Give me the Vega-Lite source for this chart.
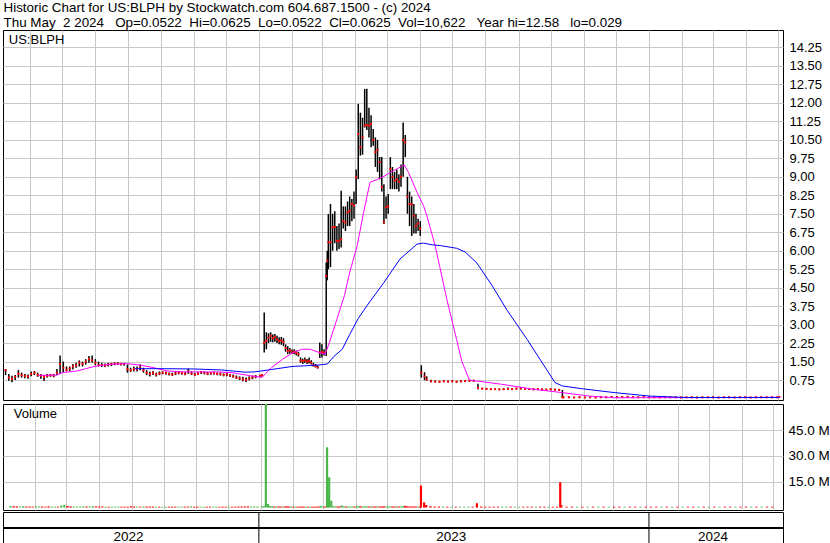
{
  "$schema": "https://vega.github.io/schema/vega-lite/v6.json",
  "padding": {"left": 1, "top": 0, "right": 0, "bottom": 0},
  "background": "white",
  "title": {
    "text": [
      "Historic Chart for US:BLPH by Stockwatch.com 604.687.1500 - (c) 2024",
      "Thu May\u00a0\u00a02 2024\u00a0\u00a0\u00a0Op=0.0522\u00a0\u00a0Hi=0.0625\u00a0\u00a0Lo=0.0522\u00a0\u00a0Cl=0.0625\u00a0\u00a0Vol=10,622\u00a0\u00a0\u00a0Year hi=12.58\u00a0\u00a0\u00a0lo=0.029"
    ],
    "anchor": "start",
    "font": "Liberation Sans",
    "fontSize": 13.4,
    "fontWeight": "normal",
    "lineHeight": 15.5,
    "color": "black",
    "offset": 0,
    "dx": 2
  },
  "config": {
    "view": {"stroke": "black", "strokeWidth": 1},
    "axis": {"gridColor": "#c8c8c8", "gridWidth": 1, "labelFont": "Liberation Sans", "labelColor": "black", "labelOverlap": false}
  },
  "datasets": {
    "px": [
      {"d":"2022-05-09","h":1.20,"l":0.95,"c":1.15,"v":0.9,"t":"up"},
      {"d":"2022-05-12","h":1.00,"l":0.72,"c":0.85,"v":0.8,"t":"dn"},
      {"d":"2022-05-15","h":0.92,"l":0.66,"c":0.80,"v":0.7,"t":"dn"},
      {"d":"2022-05-18","h":0.95,"l":0.75,"c":0.88,"v":0.6,"t":"up"},
      {"d":"2022-05-21","h":1.16,"l":0.85,"c":1.00,"v":0.8,"t":"up"},
      {"d":"2022-05-24","h":1.05,"l":0.85,"c":0.95,"v":0.6,"t":"dn"},
      {"d":"2022-05-27","h":1.00,"l":0.82,"c":0.92,"v":0.6,"t":"dn"},
      {"d":"2022-05-30","h":0.98,"l":0.80,"c":0.90,"v":0.5,"t":"dn"},
      {"d":"2022-06-02","h":1.10,"l":0.90,"c":1.00,"v":0.7,"t":"up"},
      {"d":"2022-06-05","h":1.12,"l":0.95,"c":1.05,"v":0.6,"t":"up"},
      {"d":"2022-06-08","h":1.05,"l":0.88,"c":0.95,"v":0.6,"t":"dn"},
      {"d":"2022-06-11","h":1.00,"l":0.80,"c":0.93,"v":0.5,"t":"dn"},
      {"d":"2022-06-14","h":0.95,"l":0.71,"c":0.88,"v":0.7,"t":"dn"},
      {"d":"2022-06-17","h":1.00,"l":0.85,"c":0.92,"v":0.5,"t":"up"},
      {"d":"2022-06-20","h":1.00,"l":0.88,"c":0.95,"v":0.5,"t":"up"},
      {"d":"2022-06-23","h":1.00,"l":0.86,"c":0.93,"v":0.5,"t":"dn"},
      {"d":"2022-06-26","h":1.20,"l":0.95,"c":1.05,"v":1.2,"t":"up"},
      {"d":"2022-06-29","h":1.75,"l":1.00,"c":1.40,"v":1.6,"t":"up"},
      {"d":"2022-07-02","h":1.50,"l":1.05,"c":1.25,"v":0.9,"t":"dn"},
      {"d":"2022-07-05","h":1.30,"l":1.10,"c":1.16,"v":0.7,"t":"dn"},
      {"d":"2022-07-08","h":1.30,"l":1.12,"c":1.22,"v":0.6,"t":"up"},
      {"d":"2022-07-11","h":1.40,"l":1.18,"c":1.30,"v":0.6,"t":"up"},
      {"d":"2022-07-14","h":1.45,"l":1.25,"c":1.35,"v":0.6,"t":"up"},
      {"d":"2022-07-17","h":1.55,"l":1.30,"c":1.46,"v":0.7,"t":"up"},
      {"d":"2022-07-20","h":1.50,"l":1.30,"c":1.40,"v":0.6,"t":"dn"},
      {"d":"2022-07-23","h":1.60,"l":1.38,"c":1.50,"v":0.6,"t":"up"},
      {"d":"2022-07-26","h":1.73,"l":1.45,"c":1.60,"v":0.8,"t":"up"},
      {"d":"2022-07-29","h":1.75,"l":1.45,"c":1.55,"v":0.7,"t":"dn"},
      {"d":"2022-08-01","h":1.60,"l":1.35,"c":1.45,"v":0.6,"t":"dn"},
      {"d":"2022-08-04","h":1.50,"l":1.30,"c":1.35,"v":0.6,"t":"dn"},
      {"d":"2022-08-07","h":1.45,"l":1.28,"c":1.36,"v":0.5,"t":"up"},
      {"d":"2022-08-10","h":1.42,"l":1.28,"c":1.33,"v":0.5,"t":"dn"},
      {"d":"2022-08-13","h":1.45,"l":1.30,"c":1.38,"v":0.5,"t":"up"},
      {"d":"2022-08-16","h":1.45,"l":1.32,"c":1.40,"v":0.5,"t":"up"},
      {"d":"2022-08-19","h":1.47,"l":1.35,"c":1.42,"v":0.5,"t":"up"},
      {"d":"2022-08-22","h":1.47,"l":1.36,"c":1.42,"v":0.5,"t":"dn"},
      {"d":"2022-08-25","h":1.45,"l":1.34,"c":1.40,"v":0.5,"t":"dn"},
      {"d":"2022-08-28","h":1.45,"l":1.33,"c":1.40,"v":0.5,"t":"dn"},
      {"d":"2022-08-31","h":1.38,"l":1.05,"c":1.19,"v":0.8,"t":"dn"},
      {"d":"2022-09-03","h":1.25,"l":1.08,"c":1.15,"v":0.6,"t":"dn"},
      {"d":"2022-09-06","h":1.30,"l":1.10,"c":1.20,"v":0.5,"t":"up"},
      {"d":"2022-09-09","h":1.30,"l":1.10,"c":1.19,"v":0.5,"t":"dn"},
      {"d":"2022-09-12","h":1.39,"l":1.15,"c":1.25,"v":0.6,"t":"up"},
      {"d":"2022-09-15","h":1.25,"l":1.05,"c":1.15,"v":0.6,"t":"dn"},
      {"d":"2022-09-18","h":1.15,"l":0.95,"c":1.05,"v":0.6,"t":"dn"},
      {"d":"2022-09-21","h":1.10,"l":0.89,"c":1.00,"v":0.6,"t":"dn"},
      {"d":"2022-09-24","h":1.12,"l":0.95,"c":1.05,"v":0.5,"t":"up"},
      {"d":"2022-09-27","h":1.05,"l":0.89,"c":0.98,"v":0.5,"t":"dn"},
      {"d":"2022-09-30","h":1.10,"l":0.95,"c":1.02,"v":0.5,"t":"up"},
      {"d":"2022-10-03","h":1.10,"l":0.98,"c":1.05,"v":0.5,"t":"up"},
      {"d":"2022-10-06","h":1.10,"l":0.96,"c":1.03,"v":0.5,"t":"dn"},
      {"d":"2022-10-09","h":1.06,"l":0.93,"c":1.00,"v":0.5,"t":"dn"},
      {"d":"2022-10-12","h":1.05,"l":0.92,"c":0.97,"v":0.5,"t":"dn"},
      {"d":"2022-10-15","h":1.08,"l":0.95,"c":1.02,"v":0.5,"t":"up"},
      {"d":"2022-10-18","h":1.12,"l":0.98,"c":1.05,"v":0.5,"t":"up"},
      {"d":"2022-10-21","h":1.10,"l":0.97,"c":1.03,"v":0.5,"t":"dn"},
      {"d":"2022-10-24","h":1.08,"l":0.94,"c":1.00,"v":0.5,"t":"dn"},
      {"d":"2022-10-27","h":1.21,"l":1.00,"c":1.10,"v":0.7,"t":"up"},
      {"d":"2022-10-30","h":1.10,"l":0.96,"c":1.02,"v":0.5,"t":"dn"},
      {"d":"2022-11-02","h":1.04,"l":0.92,"c":0.97,"v":0.5,"t":"dn"},
      {"d":"2022-11-05","h":1.08,"l":0.95,"c":1.00,"v":0.5,"t":"up"},
      {"d":"2022-11-08","h":1.12,"l":1.00,"c":1.07,"v":0.5,"t":"up"},
      {"d":"2022-11-11","h":1.10,"l":0.98,"c":1.05,"v":0.5,"t":"dn"},
      {"d":"2022-11-14","h":1.08,"l":0.95,"c":1.00,"v":0.5,"t":"dn"},
      {"d":"2022-11-17","h":1.08,"l":0.96,"c":1.02,"v":0.5,"t":"up"},
      {"d":"2022-11-20","h":1.10,"l":0.97,"c":1.04,"v":0.5,"t":"up"},
      {"d":"2022-11-23","h":1.06,"l":0.94,"c":1.00,"v":0.5,"t":"dn"},
      {"d":"2022-11-26","h":1.06,"l":0.93,"c":1.00,"v":0.5,"t":"dn"},
      {"d":"2022-11-29","h":1.02,"l":0.90,"c":0.96,"v":0.5,"t":"dn"},
      {"d":"2022-12-02","h":1.04,"l":0.90,"c":0.98,"v":0.5,"t":"up"},
      {"d":"2022-12-05","h":1.00,"l":0.87,"c":0.94,"v":0.5,"t":"dn"},
      {"d":"2022-12-08","h":0.98,"l":0.84,"c":0.90,"v":0.5,"t":"dn"},
      {"d":"2022-12-11","h":0.94,"l":0.79,"c":0.85,"v":0.6,"t":"dn"},
      {"d":"2022-12-14","h":0.90,"l":0.75,"c":0.82,"v":0.6,"t":"dn"},
      {"d":"2022-12-17","h":0.88,"l":0.70,"c":0.78,"v":0.6,"t":"dn"},
      {"d":"2022-12-20","h":0.85,"l":0.67,"c":0.75,"v":0.7,"t":"dn"},
      {"d":"2022-12-23","h":0.90,"l":0.74,"c":0.82,"v":0.6,"t":"up"},
      {"d":"2022-12-26","h":0.93,"l":0.78,"c":0.86,"v":0.6,"t":"up"},
      {"d":"2022-12-29","h":0.95,"l":0.82,"c":0.89,"v":0.6,"t":"up"},
      {"d":"2023-01-02","h":0.97,"l":0.86,"c":0.92,"v":0.6,"t":"up"},
      {"d":"2023-01-04","h":1.00,"l":0.88,"c":0.95,"v":0.8,"t":"up"},
      {"d":"2023-01-06","h":3.49,"l":1.87,"c":2.27,"v":61,"t":"up"},
      {"d":"2023-01-08","h":2.69,"l":2.00,"c":2.34,"v":2.1,"t":"up"},
      {"d":"2023-01-10","h":2.65,"l":2.25,"c":2.47,"v":0.9,"t":"up"},
      {"d":"2023-01-12","h":2.69,"l":2.30,"c":2.55,"v":0.7,"t":"up"},
      {"d":"2023-01-14","h":2.60,"l":2.28,"c":2.45,"v":0.6,"t":"dn"},
      {"d":"2023-01-16","h":2.62,"l":2.30,"c":2.50,"v":0.6,"t":"up"},
      {"d":"2023-01-18","h":2.55,"l":2.25,"c":2.40,"v":0.6,"t":"dn"},
      {"d":"2023-01-20","h":2.49,"l":2.20,"c":2.33,"v":0.6,"t":"dn"},
      {"d":"2023-01-22","h":2.50,"l":2.18,"c":2.35,"v":0.5,"t":"up"},
      {"d":"2023-01-24","h":2.45,"l":2.12,"c":2.30,"v":0.6,"t":"dn"},
      {"d":"2023-01-26","h":2.20,"l":1.90,"c":2.05,"v":0.7,"t":"dn"},
      {"d":"2023-01-28","h":2.13,"l":1.80,"c":1.93,"v":0.6,"t":"dn"},
      {"d":"2023-01-30","h":2.05,"l":1.82,"c":1.95,"v":0.5,"t":"up"},
      {"d":"2023-02-01","h":1.99,"l":1.83,"c":1.87,"v":0.5,"t":"dn"},
      {"d":"2023-02-03","h":2.00,"l":1.80,"c":1.90,"v":0.5,"t":"up"},
      {"d":"2023-02-05","h":1.95,"l":1.75,"c":1.85,"v":0.5,"t":"dn"},
      {"d":"2023-02-07","h":1.90,"l":1.70,"c":1.80,"v":0.5,"t":"dn"},
      {"d":"2023-02-09","h":1.67,"l":1.45,"c":1.55,"v":0.6,"t":"dn"},
      {"d":"2023-02-11","h":1.62,"l":1.40,"c":1.52,"v":0.5,"t":"dn"},
      {"d":"2023-02-13","h":1.67,"l":1.45,"c":1.55,"v":0.5,"t":"up"},
      {"d":"2023-02-15","h":1.60,"l":1.40,"c":1.50,"v":0.5,"t":"dn"},
      {"d":"2023-02-17","h":1.67,"l":1.42,"c":1.52,"v":0.5,"t":"up"},
      {"d":"2023-02-19","h":1.55,"l":1.38,"c":1.45,"v":0.5,"t":"dn"},
      {"d":"2023-02-21","h":1.45,"l":1.30,"c":1.35,"v":0.5,"t":"dn"},
      {"d":"2023-02-23","h":1.40,"l":1.26,"c":1.32,"v":0.5,"t":"dn"},
      {"d":"2023-02-25","h":1.35,"l":1.22,"c":1.26,"v":0.6,"t":"dn"},
      {"d":"2023-02-27","h":2.27,"l":1.65,"c":1.87,"v":1.0,"t":"up"},
      {"d":"2023-03-01","h":2.20,"l":1.67,"c":1.88,"v":0.6,"t":"up"},
      {"d":"2023-03-03","h":2.00,"l":1.75,"c":1.87,"v":0.6,"t":"dn"},
      {"d":"2023-03-05","h":5.52,"l":1.73,"c":4.98,"v":35,"t":"up"},
      {"d":"2023-03-06","h":6.00,"l":4.80,"c":5.60,"v":7.4,"t":"up"},
      {"d":"2023-03-07","h":7.49,"l":5.25,"c":6.34,"v":17.6,"t":"up"},
      {"d":"2023-03-09","h":7.90,"l":5.33,"c":6.35,"v":4.0,"t":"up"},
      {"d":"2023-03-11","h":7.50,"l":6.00,"c":6.95,"v":0.8,"t":"up"},
      {"d":"2023-03-13","h":7.60,"l":6.30,"c":6.96,"v":0.7,"t":"up"},
      {"d":"2023-03-15","h":7.00,"l":6.00,"c":6.40,"v":0.6,"t":"dn"},
      {"d":"2023-03-17","h":7.10,"l":6.07,"c":6.40,"v":0.6,"t":"dn"},
      {"d":"2023-03-19","h":8.43,"l":6.13,"c":6.47,"v":1.2,"t":"up"},
      {"d":"2023-03-21","h":7.80,"l":6.90,"c":7.20,"v":0.7,"t":"up"},
      {"d":"2023-03-23","h":7.80,"l":6.80,"c":7.15,"v":0.6,"t":"dn"},
      {"d":"2023-03-25","h":8.00,"l":7.00,"c":7.56,"v":0.6,"t":"up"},
      {"d":"2023-03-27","h":8.20,"l":7.00,"c":7.62,"v":0.6,"t":"up"},
      {"d":"2023-03-29","h":8.10,"l":7.20,"c":7.90,"v":0.6,"t":"up"},
      {"d":"2023-03-31","h":8.40,"l":7.30,"c":7.83,"v":0.6,"t":"dn"},
      {"d":"2023-04-02","h":9.30,"l":7.90,"c":8.98,"v":0.7,"t":"up"},
      {"d":"2023-04-04","h":11.96,"l":8.91,"c":10.74,"v":0.9,"t":"up"},
      {"d":"2023-04-06","h":11.60,"l":9.86,"c":10.20,"v":0.7,"t":"dn"},
      {"d":"2023-04-08","h":11.40,"l":9.90,"c":10.60,"v":0.6,"t":"up"},
      {"d":"2023-04-10","h":12.57,"l":11.00,"c":11.08,"v":0.7,"t":"up"},
      {"d":"2023-04-12","h":12.58,"l":10.90,"c":11.10,"v":0.7,"t":"up"},
      {"d":"2023-04-14","h":11.80,"l":10.60,"c":11.08,"v":0.6,"t":"dn"},
      {"d":"2023-04-16","h":11.50,"l":10.20,"c":11.15,"v":0.6,"t":"up"},
      {"d":"2023-04-18","h":10.94,"l":10.26,"c":10.50,"v":0.6,"t":"dn"},
      {"d":"2023-04-20","h":10.60,"l":9.40,"c":10.00,"v":0.6,"t":"dn"},
      {"d":"2023-04-22","h":10.50,"l":9.20,"c":10.10,"v":0.6,"t":"up"},
      {"d":"2023-04-24","h":9.80,"l":8.90,"c":9.60,"v":0.6,"t":"dn"},
      {"d":"2023-04-26","h":9.80,"l":8.40,"c":8.58,"v":0.6,"t":"dn"},
      {"d":"2023-04-28","h":8.70,"l":7.08,"c":7.16,"v":0.7,"t":"dn"},
      {"d":"2023-04-30","h":8.20,"l":7.30,"c":7.77,"v":0.6,"t":"up"},
      {"d":"2023-05-02","h":8.30,"l":7.50,"c":7.80,"v":0.6,"t":"up"},
      {"d":"2023-05-04","h":9.80,"l":8.50,"c":9.32,"v":0.7,"t":"up"},
      {"d":"2023-05-06","h":9.40,"l":8.50,"c":9.00,"v":0.6,"t":"dn"},
      {"d":"2023-05-08","h":9.20,"l":8.50,"c":8.84,"v":0.6,"t":"dn"},
      {"d":"2023-05-10","h":9.30,"l":8.50,"c":8.90,"v":0.6,"t":"up"},
      {"d":"2023-05-12","h":9.10,"l":8.40,"c":8.80,"v":0.6,"t":"dn"},
      {"d":"2023-05-14","h":9.50,"l":8.60,"c":9.00,"v":0.6,"t":"up"},
      {"d":"2023-05-16","h":11.20,"l":9.00,"c":10.50,"v":0.8,"t":"up"},
      {"d":"2023-05-18","h":10.70,"l":9.80,"c":10.40,"v":1.0,"t":"dn"},
      {"d":"2023-05-20","h":9.00,"l":7.50,"c":8.20,"v":0.7,"t":"dn"},
      {"d":"2023-05-22","h":8.40,"l":7.00,"c":7.90,"v":0.6,"t":"dn"},
      {"d":"2023-05-24","h":8.20,"l":6.60,"c":7.88,"v":0.6,"t":"dn"},
      {"d":"2023-05-26","h":7.90,"l":6.70,"c":7.42,"v":0.6,"t":"dn"},
      {"d":"2023-05-28","h":7.50,"l":6.70,"c":7.00,"v":0.6,"t":"dn"},
      {"d":"2023-05-30","h":7.30,"l":6.80,"c":7.10,"v":0.6,"t":"up"},
      {"d":"2023-06-01","h":7.20,"l":6.60,"c":6.90,"v":0.6,"t":"dn"},
      {"d":"2023-06-02","h":1.35,"l":0.85,"c":1.05,"v":12.8,"t":"dn"},
      {"d":"2023-06-05","h":1.07,"l":0.75,"c":0.90,"v":3.0,"t":"dn"},
      {"d":"2023-06-07","h":0.90,"l":0.72,"c":0.78,"v":1.5,"t":"dn"},
      {"d":"2023-06-11","h":0.76,"l":0.66,"c":0.70,"v":0.8,"t":"dn"},
      {"d":"2023-06-15","h":0.73,"l":0.65,"c":0.69,"v":0.6,"t":"dn"},
      {"d":"2023-06-19","h":0.72,"l":0.65,"c":0.68,"v":0.6,"t":"dn"},
      {"d":"2023-06-23","h":0.74,"l":0.66,"c":0.70,"v":0.6,"t":"up"},
      {"d":"2023-06-27","h":0.73,"l":0.65,"c":0.69,"v":0.5,"t":"dn"},
      {"d":"2023-07-01","h":0.74,"l":0.66,"c":0.70,"v":0.5,"t":"up"},
      {"d":"2023-07-05","h":0.72,"l":0.64,"c":0.68,"v":0.5,"t":"dn"},
      {"d":"2023-07-09","h":0.74,"l":0.66,"c":0.70,"v":0.5,"t":"up"},
      {"d":"2023-07-13","h":0.75,"l":0.67,"c":0.71,"v":0.5,"t":"up"},
      {"d":"2023-07-17","h":0.76,"l":0.68,"c":0.72,"v":0.5,"t":"up"},
      {"d":"2023-07-21","h":0.76,"l":0.68,"c":0.72,"v":0.5,"t":"dn"},
      {"d":"2023-07-25","h":0.60,"l":0.38,"c":0.42,"v":2.5,"t":"dn"},
      {"d":"2023-07-29","h":0.44,"l":0.37,"c":0.40,"v":0.6,"t":"dn"},
      {"d":"2023-08-02","h":0.43,"l":0.36,"c":0.39,"v":0.5,"t":"dn"},
      {"d":"2023-08-06","h":0.42,"l":0.35,"c":0.38,"v":0.5,"t":"dn"},
      {"d":"2023-08-10","h":0.41,"l":0.35,"c":0.38,"v":0.5,"t":"dn"},
      {"d":"2023-08-14","h":0.40,"l":0.34,"c":0.37,"v":0.5,"t":"dn"},
      {"d":"2023-08-18","h":0.42,"l":0.35,"c":0.38,"v":0.5,"t":"up"},
      {"d":"2023-08-22","h":0.45,"l":0.36,"c":0.39,"v":0.5,"t":"up"},
      {"d":"2023-08-26","h":0.42,"l":0.35,"c":0.38,"v":0.5,"t":"dn"},
      {"d":"2023-08-30","h":0.44,"l":0.37,"c":0.40,"v":0.5,"t":"up"},
      {"d":"2023-09-03","h":0.45,"l":0.37,"c":0.41,"v":0.5,"t":"up"},
      {"d":"2023-09-07","h":0.43,"l":0.36,"c":0.39,"v":0.5,"t":"dn"},
      {"d":"2023-09-11","h":0.42,"l":0.35,"c":0.38,"v":0.5,"t":"dn"},
      {"d":"2023-09-15","h":0.41,"l":0.34,"c":0.37,"v":0.5,"t":"dn"},
      {"d":"2023-09-19","h":0.42,"l":0.35,"c":0.38,"v":0.5,"t":"up"},
      {"d":"2023-09-23","h":0.41,"l":0.34,"c":0.37,"v":0.5,"t":"dn"},
      {"d":"2023-09-27","h":0.40,"l":0.33,"c":0.36,"v":0.5,"t":"dn"},
      {"d":"2023-10-01","h":0.41,"l":0.34,"c":0.37,"v":0.5,"t":"up"},
      {"d":"2023-10-05","h":0.40,"l":0.33,"c":0.36,"v":0.5,"t":"dn"},
      {"d":"2023-10-09","h":0.39,"l":0.32,"c":0.35,"v":0.5,"t":"dn"},
      {"d":"2023-10-12","h":0.35,"l":0.03,"c":0.05,"v":14.7,"t":"dn"},
      {"d":"2023-10-13","h":0.08,"l":0.03,"c":0.05,"v":1.5,"t":"dn"},
      {"d":"2023-10-18","h":0.08,"l":0.03,"c":0.05,"v":0.5,"t":"dn"},
      {"d":"2023-10-23","h":0.07,"l":0.03,"c":0.04,"v":0.5,"t":"dn"},
      {"d":"2023-10-28","h":0.09,"l":0.03,"c":0.05,"v":0.5,"t":"up"},
      {"d":"2023-11-02","h":0.07,"l":0.03,"c":0.04,"v":0.5,"t":"dn"},
      {"d":"2023-11-07","h":0.08,"l":0.03,"c":0.05,"v":0.5,"t":"up"},
      {"d":"2023-11-12","h":0.07,"l":0.02,"c":0.04,"v":0.5,"t":"dn"},
      {"d":"2023-11-17","h":0.10,"l":0.03,"c":0.05,"v":0.5,"t":"up"},
      {"d":"2023-11-22","h":0.08,"l":0.03,"c":0.05,"v":0.5,"t":"dn"},
      {"d":"2023-11-27","h":0.09,"l":0.04,"c":0.06,"v":0.5,"t":"up"},
      {"d":"2023-12-02","h":0.10,"l":0.04,"c":0.06,"v":0.5,"t":"dn"},
      {"d":"2023-12-07","h":0.09,"l":0.04,"c":0.06,"v":0.5,"t":"dn"},
      {"d":"2023-12-12","h":0.10,"l":0.04,"c":0.07,"v":0.5,"t":"up"},
      {"d":"2023-12-17","h":0.09,"l":0.04,"c":0.06,"v":0.5,"t":"dn"},
      {"d":"2023-12-22","h":0.08,"l":0.03,"c":0.05,"v":0.5,"t":"dn"},
      {"d":"2023-12-27","h":0.09,"l":0.04,"c":0.06,"v":0.5,"t":"up"},
      {"d":"2024-01-01","h":0.08,"l":0.03,"c":0.05,"v":0.5,"t":"dn"},
      {"d":"2024-01-06","h":0.08,"l":0.03,"c":0.05,"v":0.5,"t":"dn"},
      {"d":"2024-01-11","h":0.07,"l":0.03,"c":0.04,"v":0.5,"t":"dn"},
      {"d":"2024-01-16","h":0.08,"l":0.03,"c":0.05,"v":0.5,"t":"up"},
      {"d":"2024-01-21","h":0.07,"l":0.03,"c":0.05,"v":0.5,"t":"dn"},
      {"d":"2024-01-26","h":0.08,"l":0.03,"c":0.05,"v":0.5,"t":"up"},
      {"d":"2024-01-31","h":0.07,"l":0.03,"c":0.04,"v":0.5,"t":"dn"},
      {"d":"2024-02-05","h":0.07,"l":0.03,"c":0.05,"v":0.5,"t":"up"},
      {"d":"2024-02-10","h":0.08,"l":0.03,"c":0.05,"v":0.5,"t":"dn"},
      {"d":"2024-02-15","h":0.07,"l":0.03,"c":0.04,"v":0.5,"t":"dn"},
      {"d":"2024-02-20","h":0.08,"l":0.03,"c":0.05,"v":0.5,"t":"up"},
      {"d":"2024-02-25","h":0.07,"l":0.03,"c":0.05,"v":0.5,"t":"dn"},
      {"d":"2024-03-01","h":0.08,"l":0.03,"c":0.05,"v":0.5,"t":"up"},
      {"d":"2024-03-06","h":0.07,"l":0.03,"c":0.04,"v":0.5,"t":"dn"},
      {"d":"2024-03-11","h":0.07,"l":0.03,"c":0.05,"v":0.5,"t":"up"},
      {"d":"2024-03-16","h":0.08,"l":0.03,"c":0.05,"v":0.5,"t":"dn"},
      {"d":"2024-03-21","h":0.07,"l":0.03,"c":0.04,"v":0.5,"t":"dn"},
      {"d":"2024-03-26","h":0.07,"l":0.03,"c":0.05,"v":0.5,"t":"up"},
      {"d":"2024-03-31","h":0.08,"l":0.03,"c":0.05,"v":0.5,"t":"dn"},
      {"d":"2024-04-05","h":0.07,"l":0.03,"c":0.04,"v":0.5,"t":"dn"},
      {"d":"2024-04-10","h":0.07,"l":0.03,"c":0.05,"v":0.5,"t":"up"},
      {"d":"2024-04-15","h":0.08,"l":0.03,"c":0.05,"v":0.5,"t":"dn"},
      {"d":"2024-04-20","h":0.07,"l":0.03,"c":0.05,"v":0.5,"t":"up"},
      {"d":"2024-04-25","h":0.07,"l":0.04,"c":0.05,"v":0.5,"t":"dn"},
      {"d":"2024-04-30","h":0.07,"l":0.04,"c":0.05,"v":0.5,"t":"dn"},
      {"d":"2024-05-02","h":0.0625,"l":0.0522,"c":0.0625,"v":0.01,"t":"up"}
    ],
    "mag": [
      {"d":"2022-06-09","p":0.94},{"d":"2022-06-26","p":0.95},{"d":"2022-07-01","p":1.05},
      {"d":"2022-07-15","p":1.12},{"d":"2022-07-29","p":1.28},{"d":"2022-08-07","p":1.35},
      {"d":"2022-08-16","p":1.39},{"d":"2022-08-30","p":1.42},{"d":"2022-09-13","p":1.35},
      {"d":"2022-09-28","p":1.22},{"d":"2022-10-07","p":1.12},{"d":"2022-10-21","p":1.08},
      {"d":"2022-11-09","p":1.08},{"d":"2022-11-23","p":1.08},{"d":"2022-12-07","p":1.05},
      {"d":"2022-12-16","p":0.98},{"d":"2022-12-25","p":0.92},{"d":"2023-01-04","p":0.86},
      {"d":"2023-01-13","p":1.26},{"d":"2023-01-23","p":1.59},{"d":"2023-02-01","p":1.84},
      {"d":"2023-02-10","p":2.00},{"d":"2023-02-18","p":2.00},{"d":"2023-02-25","p":1.89},
      {"d":"2023-03-04","p":1.80},{"d":"2023-03-08","p":2.27},{"d":"2023-03-15","p":3.22},
      {"d":"2023-03-22","p":4.17},{"d":"2023-03-27","p":5.12},{"d":"2023-04-03","p":6.20},
      {"d":"2023-04-09","p":7.56},{"d":"2023-04-15","p":8.78},{"d":"2023-04-21","p":8.88},
      {"d":"2023-04-28","p":9.02},{"d":"2023-05-07","p":9.25},{"d":"2023-05-17","p":9.48},
      {"d":"2023-05-21","p":9.18},{"d":"2023-05-29","p":8.37},{"d":"2023-06-04","p":7.83},
      {"d":"2023-06-07","p":7.45},{"d":"2023-06-15","p":6.20},{"d":"2023-06-19","p":5.40},
      {"d":"2023-06-26","p":4.00},{"d":"2023-07-05","p":2.40},{"d":"2023-07-10","p":1.50},
      {"d":"2023-07-17","p":0.75},{"d":"2023-08-16","p":0.58},{"d":"2023-09-16","p":0.37},
      {"d":"2023-10-12","p":0.24},{"d":"2023-11-06","p":0.10},{"d":"2023-11-30","p":0.03},
      {"d":"2024-02-20","p":0.04},{"d":"2024-05-02","p":0.05}
    ],
    "blu": [
      {"d":"2022-09-07","p":1.21},{"d":"2022-10-05","p":1.21},{"d":"2022-11-01","p":1.20},
      {"d":"2022-11-27","p":1.16},{"d":"2022-12-19","p":1.07},{"d":"2022-12-28","p":1.08},
      {"d":"2023-01-13","p":1.18},{"d":"2023-02-01","p":1.30},{"d":"2023-02-26","p":1.36},
      {"d":"2023-03-06","p":1.40},{"d":"2023-03-12","p":1.70},{"d":"2023-03-20","p":2.00},
      {"d":"2023-03-27","p":2.60},{"d":"2023-04-04","p":3.25},{"d":"2023-04-12","p":3.76},
      {"d":"2023-04-28","p":4.71},{"d":"2023-05-13","p":5.66},{"d":"2023-05-29","p":6.27},
      {"d":"2023-06-04","p":6.31},{"d":"2023-06-12","p":6.24},{"d":"2023-06-21","p":6.20},
      {"d":"2023-07-05","p":6.10},{"d":"2023-07-13","p":5.95},{"d":"2023-07-24","p":5.50},
      {"d":"2023-08-07","p":4.60},{"d":"2023-08-21","p":3.60},{"d":"2023-09-09","p":2.40},
      {"d":"2023-09-23","p":1.46},{"d":"2023-10-05","p":0.65},{"d":"2023-10-12","p":0.51},
      {"d":"2023-10-30","p":0.40},{"d":"2023-11-18","p":0.30},{"d":"2023-11-30","p":0.24},
      {"d":"2023-12-16","p":0.17},{"d":"2024-01-01","p":0.10},{"d":"2024-02-07","p":0.04},
      {"d":"2024-05-02","p":0.04}
    ]
  },
  "spacing": 2,
  "vconcat": [
    {
      "width": 780,
      "height": 370,
      "layer": [
        {
          "data": {"name": "px"},
          "mark": {"type": "rule", "color": "black", "strokeWidth": 1.5},
          "encoding": {
            "x": {"field": "d", "type": "temporal",
                  "scale": {"domain": [{"year": 2022, "month": 5, "date": 6, "hours": 14}, {"year": 2024, "month": 5, "date": 5, "hours": 10}]},
                  "axis": {"title": null, "labels": false, "ticks": false, "domain": false, "grid": true, "tickCount": {"interval": "month", "step": 1}}},
            "y": {"field": "l", "type": "quantitative",
                  "scale": {"domain": [-0.06, 14.96], "nice": false, "zero": false},
                  "axis": {"orient": "right", "title": null, "ticks": false, "domain": false, "grid": true,
                           "values": [0.75, 1.5, 2.25, 3, 3.75, 4.5, 5.25, 6, 6.75, 7.5, 8.25, 9, 9.75, 10.5, 11.25, 12, 12.75, 13.5, 14.25],
                           "tickCount": 40,
                           "format": ".2f", "labelFontSize": 13, "labelPadding": 6, "labelOverlap": false}},
            "y2": {"field": "h"}
          }
        },
        {
          "data": {"name": "px"},
          "mark": {"type": "square", "color": "red", "size": 4, "opacity": 1},
          "encoding": {
            "x": {"field": "d", "type": "temporal"},
            "y": {"field": "c", "type": "quantitative"}
          }
        },
        {
          "data": {"name": "mag"},
          "mark": {"type": "line", "color": "#ff00ff", "strokeWidth": 1},
          "encoding": {
            "x": {"field": "d", "type": "temporal"},
            "y": {"field": "p", "type": "quantitative"}
          }
        },
        {
          "data": {"name": "blu"},
          "mark": {"type": "line", "color": "#0000ff", "strokeWidth": 1},
          "encoding": {
            "x": {"field": "d", "type": "temporal"},
            "y": {"field": "p", "type": "quantitative"}
          }
        },
        {
          "data": {"values": [{"lab": "US:BLPH"}]},
          "mark": {"type": "text", "align": "left", "baseline": "middle", "font": "Liberation Sans", "fontSize": 13, "color": "black"},
          "encoding": {
            "x": {"datum": {"year": 2022, "month": 5, "date": 12}, "type": "temporal"},
            "y": {"datum": 14.55, "type": "quantitative"},
            "text": {"field": "lab"}
          }
        }
      ]
    },
    {
      "spacing": 0,
      "vconcat": [
        {
          "width": 780,
          "height": 106,
          "layer": [
            {
              "data": {"name": "px"},
              "mark": {"type": "bar", "width": 2.2, "clip": true},
              "encoding": {
                "x": {"field": "d", "type": "temporal",
                      "scale": {"domain": [{"year": 2022, "month": 5, "date": 6, "hours": 14}, {"year": 2024, "month": 5, "date": 5, "hours": 10}]},
                      "axis": {"title": null, "labels": false, "ticks": false, "domain": false, "grid": true, "tickCount": {"interval": "month", "step": 1}}},
                "y": {"field": "v", "type": "quantitative",
                      "scale": {"domain": [-1.42, 60.1], "nice": false, "zero": false},
                      "axis": {"orient": "right", "title": null, "ticks": false, "domain": false, "grid": true,
                               "values": [15, 30, 45], "tickCount": 10, "labelExpr": "format(datum.value, '.1f') + ' M'",
                               "labelFontSize": 13.5, "labelPadding": 5, "labelOverlap": false}},
                "y2": {"datum": 0},
                "color": {"field": "t", "type": "nominal", "scale": {"domain": ["up", "dn"], "range": ["#4cb84c", "#ff0000"]}, "legend": null}
              }
            },
            {
              "data": {"values": [{"lab": "Volume"}]},
              "mark": {"type": "text", "align": "left", "baseline": "middle", "font": "Liberation Sans", "fontSize": 13, "color": "black"},
              "encoding": {
                "x": {"datum": {"year": 2022, "month": 5, "date": 12}, "type": "temporal"},
                "y": {"datum": 54.3, "type": "quantitative"},
                "text": {"field": "lab"}
              }
            }
          ]
        },
        {
          "width": 780,
          "height": 32,
          "layer": [
            {
              "data": {"values": [{"yr": "2022", "m": "2022-09-01"}, {"yr": "2023", "m": "2023-06-30"}, {"yr": "2024", "m": "2024-03-01"}]},
              "mark": {"type": "text", "baseline": "middle", "align": "center", "font": "Liberation Sans", "fontSize": 13.5, "color": "black"},
              "encoding": {
                "x": {"field": "m", "type": "temporal",
                      "scale": {"domain": [{"year": 2022, "month": 5, "date": 6, "hours": 14}, {"year": 2024, "month": 5, "date": 5, "hours": 10}]},
                      "axis": null},
                "y": {"datum": 0.23, "type": "quantitative", "scale": {"domain": [0, 1]}, "axis": null},
                "text": {"field": "yr"}
              }
            },
            {
              "data": {"values": [{"b": "2023-01-01"}, {"b": "2024-01-01"}]},
              "mark": {"type": "rule", "color": "black", "strokeWidth": 1},
              "encoding": {"x": {"field": "b", "type": "temporal"}}
            },
            {
              "data": {"values": [{"hl": 0.5}]},
              "mark": {"type": "rule", "color": "black", "strokeWidth": 2},
              "encoding": {"y": {"field": "hl", "type": "quantitative"}}
            }
          ]
        }
      ]
    }
  ]
}
